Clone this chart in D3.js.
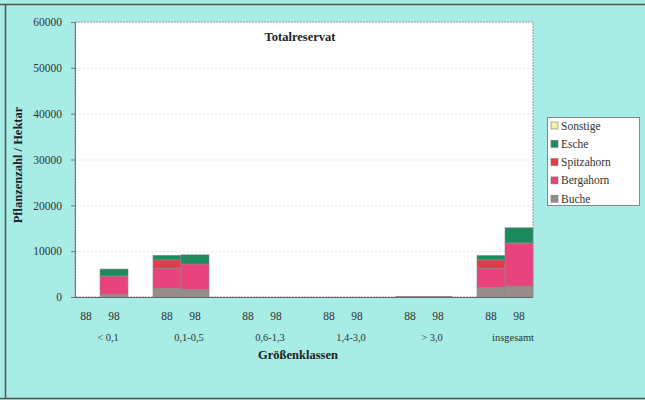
<!DOCTYPE html>
<html><head><meta charset="utf-8">
<script src="https://cdn.jsdelivr.net/npm/d3@7/dist/d3.min.js"></script>
<style>body{margin:0;background:#a8ece6;}svg{display:block;}</style>
</head><body>
<svg id="c" width="645" height="400"></svg>
<script>
const groups = ["< 0,1", "0,1-0,5", "0,6-1,3", "1,4-3,0", "> 3,0", "insgesamt"];
const years = ["88", "98"];
const species = ["Buche", "Bergahorn", "Spitzahorn", "Esche", "Sonstige"];
const colors = ["#968c88", "#e8437c", "#e23c4c", "#1c8a5c", "#f6f0a4"];
// values per group, [88, 98], per species
const buche      = [[0, 600], [1900, 1700], [0, 0], [0, 0], [150, 150], [2100, 2400]];
const bergahorn  = [[0, 3900], [4400, 5500], [0, 0], [0, 0], [0, 0], [4200, 9300]];
const spitzahorn = [[0, 100], [1800, 0], [0, 0], [0, 0], [0, 0], [1800, 100]];
const esche      = [[0, 1500], [1000, 2000], [0, 0], [0, 0], [0, 0], [950, 3300]];
const sonstige   = [[0, 0], [0, 0], [0, 0], [0, 0], [0, 0], [0, 0]];
const yTicks = [0, 10000, 20000, 30000, 40000, 50000, 60000];

const seriesVals = [buche, bergahorn, spitzahorn, esche, sonstige];
const rows = [];
groups.forEach((g, gi) => years.forEach((yr, yi) => {
  const r = {group: g, year: yr};
  species.forEach((s, si) => r[s] = seriesVals[si][gi][yi]);
  rows.push(r);
}));

const svg = d3.select("#c");
const L = 75, R = 533, T = 22, B = 297;

// outer frame
svg.append("rect").attr("x", 0).attr("y", 0).attr("width", 645).attr("height", 400).attr("fill", "#a8ece6");
svg.append("path").attr("d", "M0,4.5H645 M5.5,4V398 M0,398.5H645").attr("stroke", "#555").attr("stroke-width", 1.5).attr("fill", "none");

// plot area
svg.append("rect").attr("x", L).attr("y", T).attr("width", R - L).attr("height", B - T)
  .attr("fill", "#fff").attr("stroke", "#999").attr("stroke-width", 1).attr("stroke-dasharray", "2,1");

const x = d3.scaleBand().domain(groups).range([59.5, 545.5]).padding(0);
const xi = d3.scaleBand().domain(years).range([0, x.bandwidth()]).paddingOuter(0.446).paddingInner(0);
const y = d3.scaleLinear().domain([0, 60000]).range([B, T]);

// grid
svg.append("g").selectAll("line").data(yTicks.slice(1, -1)).join("line")
  .attr("x1", L).attr("x2", R).attr("y1", d => y(d) + 0.5).attr("y2", d => y(d) + 0.5)
  .attr("stroke", "#e4e4e4").attr("stroke-dasharray", "2,2");

// bars
const stack = d3.stack().keys(species)(rows);
svg.append("g").selectAll("g").data(stack).join("g")
  .attr("fill", (d, i) => colors[i])
  .selectAll("rect").data(d => d.filter(p => p[1] - p[0] > 0)).join("rect")
  .attr("x", d => x(d.data.group) + xi(d.data.year))
  .attr("width", xi.bandwidth())
  .attr("y", d => y(d[1]))
  .attr("height", d => y(d[0]) - y(d[1]))
  .attr("stroke", "#8a8a8a").attr("stroke-width", 0.6);

// y axis
const ya = svg.append("g").attr("transform", `translate(${L},0)`)
  .call(d3.axisLeft(y).tickValues(yTicks).tickFormat(d3.format("d")).tickSize(4).tickPadding(9));
ya.select(".domain").attr("stroke", "#777");
ya.selectAll(".tick line").attr("stroke", "#777");
ya.selectAll("text").attr("font-family", "Liberation Serif").attr("font-size", 11.5).attr("fill", "#333");

// x axis line
svg.append("line").attr("x1", L).attr("x2", R).attr("y1", B + 0.5).attr("y2", B + 0.5).attr("stroke", "#666").attr("stroke-width", 1.2);

// year labels
svg.append("g").selectAll("text").data(rows).join("text")
  .attr("x", d => x(d.group) + xi(d.year) + xi.bandwidth() / 2)
  .attr("y", 320).attr("text-anchor", "middle")
  .attr("font-family", "Liberation Serif").attr("font-size", 11.5).attr("fill", "#333")
  .text(d => d.year);
// group labels
svg.append("g").selectAll("text").data(groups).join("text")
  .attr("x", d => x(d) + x.bandwidth() / 2 + 8)
  .attr("y", 341).attr("text-anchor", "middle")
  .attr("font-family", "Liberation Serif").attr("font-size", 10.5).attr("fill", "#333")
  .text(d => d);

// axis titles
svg.append("text").attr("x", 298).attr("y", 359).attr("text-anchor", "middle")
  .attr("font-family", "Liberation Serif").attr("font-weight", "bold").attr("font-size", 12.5).attr("fill", "#222")
  .text("Größenklassen");
svg.append("text").attr("transform", "translate(22,165) rotate(-90)").attr("text-anchor", "middle")
  .attr("font-family", "Liberation Serif").attr("font-weight", "bold").attr("font-size", 12.5).attr("fill", "#222")
  .text("Pflanzenzahl / Hektar");
svg.append("text").attr("x", 300).attr("y", 41).attr("text-anchor", "middle")
  .attr("font-family", "Liberation Serif").attr("font-weight", "bold").attr("font-size", 12.5).attr("fill", "#222")
  .text("Totalreservat");

// legend
const lg = svg.append("g");
lg.append("rect").attr("x", 547.5).attr("y", 117.5).attr("width", 92).attr("height", 88)
  .attr("fill", "#fff").attr("stroke", "#888");
const legOrder = species.slice().reverse();
const li = lg.selectAll("g").data(legOrder).join("g")
  .attr("transform", (d, i) => `translate(551,${126 + i * 18.3})`);
li.append("rect").attr("x", 0).attr("y", -4).attr("width", 7).attr("height", 7)
  .attr("fill", d => colors[species.indexOf(d)]).attr("stroke", "#777").attr("stroke-width", 0.6);
li.append("text").attr("x", 10).attr("y", 3.5)
  .attr("font-family", "Liberation Serif").attr("font-size", 11.5).attr("fill", "#333")
  .text(d => d);
</script>
</body></html>
